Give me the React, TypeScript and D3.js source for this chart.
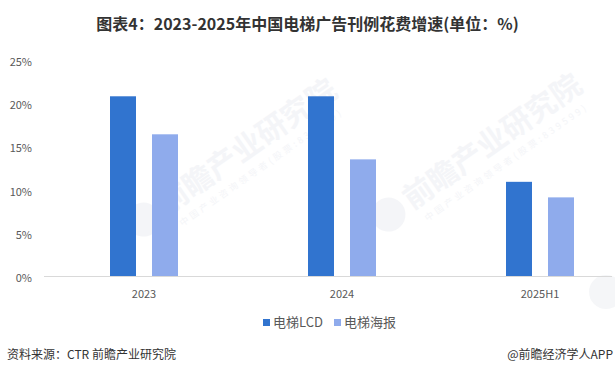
import React from "react";
import * as d3 from "d3";

const categories = ["2023", "2024", "2025H1"];
const seriesNames = ["电梯LCD", "电梯海报"];
const lcdValues = [20.8, 20.8, 10.9];
const posterValues = [16.4, 13.5, 9.1];
const yTicks = [0, 5, 10, 15, 20, 25];
const colors = ["#3174CF", "#8FABEC"];
const title = "图表4：2023-2025年中国电梯广告刊例花费增速(单位：%)";
const sourceText = "资料来源：CTR 前瞻产业研究院";
const brandText = "@前瞻经济学人APP";

const W = 615;
const H = 376;
const FONT = "'Noto Sans CJK SC', 'Microsoft YaHei', sans-serif";

export default function App() {
  const x = d3.scaleBand<string>().domain(categories).range([45, 639]).padding(0);
  const inner = d3
    .scaleBand<string>()
    .domain(seriesNames)
    .range([-34, 34])
    .paddingInner(16 / 42)
    .paddingOuter(0);
  const y = d3.scaleLinear().domain([0, 25]).range([276, 60]);
  const series = [lcdValues, posterValues];

  const watermarks = [
    { x: 150, y: 215, full: true },
    { x: 395, y: 210, full: true },
  ];

  return (
    <svg
      width={W}
      height={H}
      style={{ position: "absolute", left: 0, top: 0, background: "#fff" }}
      fontFamily={FONT}
    >
      <rect width={W} height={H} fill="#fff" />
      {watermarks.map((w, i) => (
        <g key={i} transform={`translate(${w.x},${w.y}) rotate(-35)`} opacity={0.55}>
          <circle cx={-8} cy={0} r={17} fill="#eceef3" />
          <text x={14} y={10} fontSize={30} fontWeight={700} fill="#eceef3">
            前瞻产业研究院
          </text>
          <text x={20} y={28} fontSize={9} fill="#eceef3" letterSpacing={3}>
            中国产业咨询领导者(股票:839599)
          </text>
        </g>
      ))}
      <circle cx={606} cy={292} r={17} fill="#eceef3" opacity={0.55} />
      <text
        x={W / 2}
        y={30}
        textAnchor="middle"
        fontSize={16}
        fontWeight={700}
        fill="#333333"
      >
        {title}
      </text>
      {yTicks.map((t) => (
        <text
          key={t}
          x={32}
          y={y(t) + 6}
          textAnchor="end"
          fontSize={11}
          fill="#595959"
        >
          {t}%
        </text>
      ))}
      {categories.map((c, i) => (
        <g key={c}>
          {series.map((vals, s) => {
            const cx = (x(c) as number) + x.bandwidth() / 2;
            const bx = cx + (inner(seriesNames[s]) as number);
            return (
              <rect
                key={s}
                x={bx}
                y={y(vals[i])}
                width={inner.bandwidth()}
                height={y(0) - y(vals[i])}
                fill={colors[s]}
              />
            );
          })}
          <text
            x={(x(c) as number) + x.bandwidth() / 2}
            y={298}
            textAnchor="middle"
            fontSize={11}
            fill="#595959"
          >
            {c}
          </text>
        </g>
      ))}
      <line x1={44} x2={612} y1={y(0) + 0.5} y2={y(0) + 0.5} stroke="#d9d9d9" strokeWidth={1} />
      <g>
        <rect x={263} y={319} width={7} height={7} fill={colors[0]} />
        <text x={273} y={327} fontSize={13} fill="#595959">
          {seriesNames[0]}
        </text>
        <rect x={334} y={319} width={7} height={7} fill={colors[1]} />
        <text x={344} y={327} fontSize={13} fill="#595959">
          {seriesNames[1]}
        </text>
      </g>
      <text x={7} y={359} fontSize={12} fill="#333333">
        {sourceText}
      </text>
      <text x={613} y={359} textAnchor="end" fontSize={12} fill="#333333">
        {brandText}
      </text>
    </svg>
  );
}
